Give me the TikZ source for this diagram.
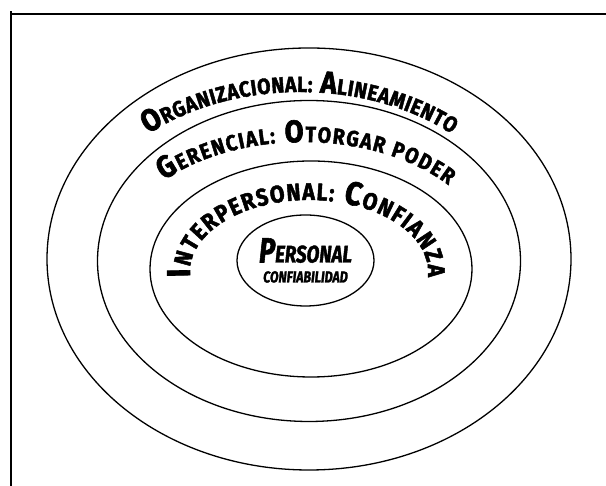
\documentclass[tikz,border=0pt]{standalone}
\usepackage{fontspec}
\setmainfont{Fira Sans}
\newfontfamily\ringfont{Fira Sans}[FakeStretch=0.88, BoldFeatures={FakeBold=2}]
\newfontfamily\corefont{Fira Sans}[FakeStretch=0.78, BoldItalicFeatures={FakeBold=1.6}]
\usetikzlibrary{shapes.geometric, decorations.text}

\newcommand\ringbig{\ringfont\bfseries\fontsize{31}{31}\selectfont}
\newcommand\ringsmall{\ringfont\bfseries\fontsize{22}{22}\selectfont}
\newcommand\innerbig{\ringfont\bfseries\fontsize{33}{33}\selectfont}
\newcommand\innersmall{\ringfont\bfseries\fontsize{24}{24}\selectfont}

\tikzset{
  ring/.style={line width=1.3pt},
  ringlabel/.style={decorate, decoration={text along path, text align={fit to path}, text={#1}}},
}

\begin{document}
\begin{tikzpicture}[x=1pt, y=1pt]
\useasboundingbox (0,0) rectangle (606,486);
% frame
\draw[line width=2pt] (11,0) -- (11,475);
\draw[line width=2pt] (10,472) -- (606,472);

% rings
\draw[ring] (309,227) ellipse [x radius=262, y radius=211];
\draw[ring] (309,225) ellipse [x radius=211.5, y radius=160.5];
\draw[ring] (311,217) ellipse [x radius=161, y radius=108];
\node[ellipse, draw, ring, minimum width=137, minimum height=91, inner sep=0pt, align=center] (personal) at (305.5,225.5)
  {{\corefont\bfseries\itshape\fontsize{35}{35}\selectfont P\fontsize{24}{24}\selectfont ERSONAL}\\[8pt]
   {\corefont\bfseries\itshape\fontsize{16}{16}\selectfont CONFIABILIDAD}};

% labels along the rings
\path[ringlabel={|\ringbig|O|\ringsmall|RGANIZACIONAL:|\ringbig| A|\ringsmall|LINEAMIENTO}, shift={(300,227)}]
  (131.5:229 and 167) arc[start angle=131.5, end angle=48.5, x radius=229, y radius=167];
\path[ringlabel={|\ringbig|G|\ringsmall|ERENCIAL:|\ringbig| O|\ringsmall|TORGAR PODER}, shift={(303,223)}]
  (137:190 and 121) arc[start angle=137, end angle=40, x radius=190, y radius=121];
\path[ringlabel={|\innerbig|I|\innersmall|NTERPERSONAL:|\innerbig| C|\innersmall|ONFIANZA}, shift={(309,214)}]
  (184:119 and 72) arc[start angle=184, end angle=-4, x radius=119, y radius=72];
\end{tikzpicture}
\end{document}
